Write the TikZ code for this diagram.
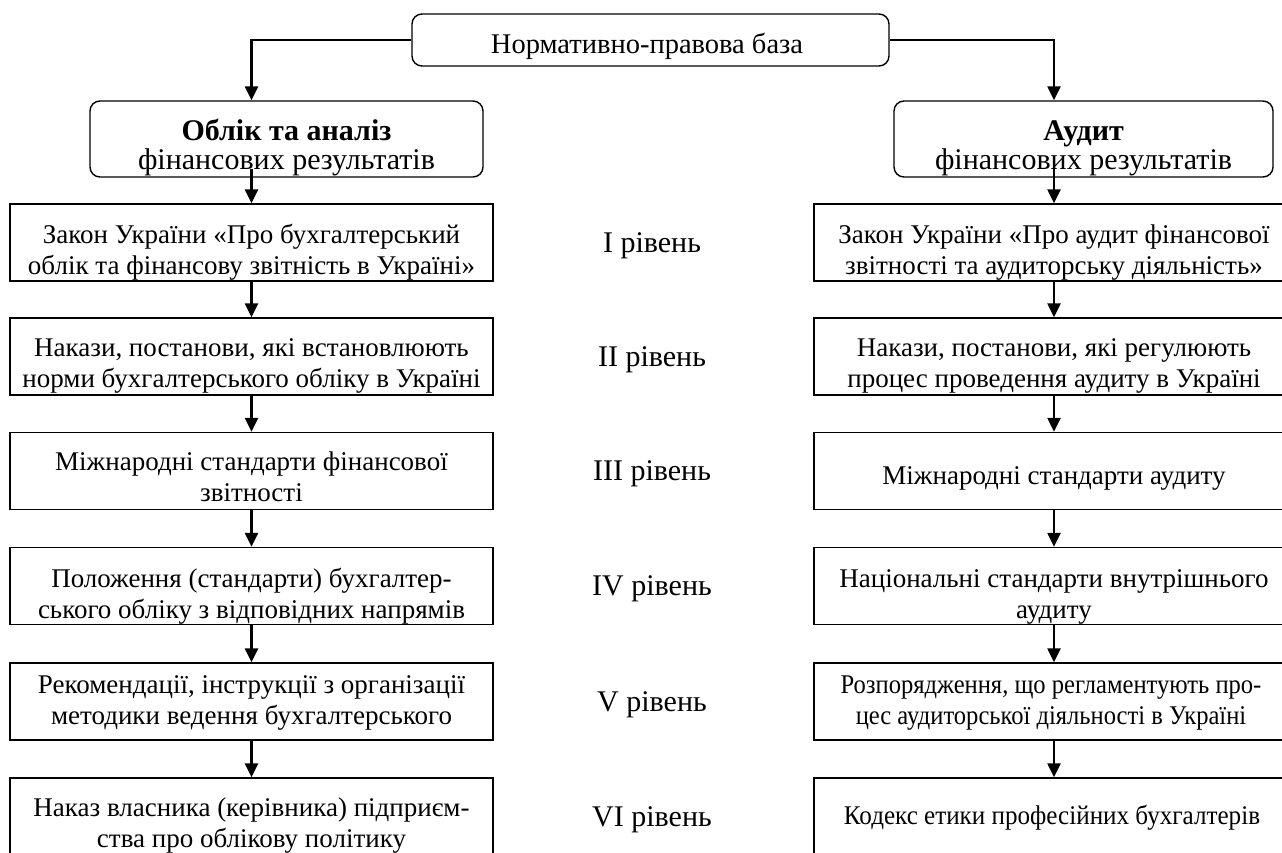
\documentclass[tikz,border=0pt]{standalone}
\usepackage{fontspec}
\setmainfont{Liberation Serif}
\usetikzlibrary{arrows.meta}
\tikzset{
  lvl/.style={draw, line width=1.4pt, minimum height=77pt, inner sep=0pt},
  lcol/.style={lvl, minimum width=483pt},
  rcol/.style={lvl, minimum width=480pt},
  rbox/.style={draw, line width=1.4pt, rounded corners=10pt, inner sep=0pt},
  txt/.style={anchor=base, inner sep=0pt, font=\fontsize{27}{31}\selectfont},
  ttxt/.style={anchor=base, inner sep=0pt, font=\fontsize{28.5}{31}\selectfont},
  htxt/.style={anchor=base, inner sep=0pt, font=\fontsize{30}{29}\selectfont},
  ltxt/.style={anchor=base, inner sep=0pt, font=\fontsize{30}{31}\selectfont},
  arr/.style={line width=2.4pt, -{Triangle[length=14pt,width=13pt]}},
}
\newcommand{\twol}[2]{\begin{tabular}[t]{@{}c@{}}#1\\#2\end{tabular}}
\newcommand{\boxtext}[4]{%
  \begin{scope}
    \clip ([yshift=0.7pt]#1.south west) rectangle ([yshift=-0.7pt]#1.north east);
    \node[txt] (#2) at #3 {#4};
  \end{scope}}
\begin{document}
\begin{tikzpicture}[x=1pt,y=-1pt]
\useasboundingbox (0,0) rectangle (1282,852);
\clip (0,0) rectangle (1282,852);

% top box
\node[rbox, minimum width=477pt, minimum height=52pt] (top) at (650.5,40) {};
\node[ttxt] (topt) at (647,53) {Нормативно-правова база};

% header boxes
\node[rbox, minimum width=393pt, minimum height=76pt] (lh) at (286.5,139) {};
\node[htxt] (lht) at (286.5,140) {\twol{\textbf{Облік та аналіз}}{фінансових результатів}};
\node[rbox, minimum width=379pt, minimum height=76pt] (rh) at (1083.5,139) {};
\node[htxt] (rht) at (1083.5,140) {\twol{\textbf{Аудит}}{фінансових результатів}};

% left column
\node[lcol] (l1) at (251.5,242.5) {};
\node[lcol] (l2) at (251.5,356.5) {};
\node[lcol] (l3) at (251.5,471) {};
\node[lcol] (l4) at (251.5,586) {};
\node[lcol] (l5) at (251.5,701.5) {};
\node[lcol] (l6) at (251.5,816.5) {};
\boxtext{l1}{l1t}{(251.5,243)}{\twol{Закон України «Про бухгалтерський}{облік та фінансову звітність в Україні»}}
\boxtext{l2}{l2t}{(251.5,356)}{\twol{Накази, постанови, які встановлюють}{норми бухгалтерського обліку в Україні}}
\boxtext{l3}{l3t}{(251.5,470)}{\twol{Міжнародні стандарти фінансової}{звітності}}
\boxtext{l4}{l4t}{(251.5,587)}{\twol{Положення (стандарти) бухгалтер-}{ського обліку з відповідних напрямів}}
\boxtext{l5}{l5t}{(251.5,693)}{\twol{Рекомендації, інструкції з організації}{методики ведення бухгалтерського}}
\boxtext{l6}{l6t}{(251.5,816)}{\twol{Наказ власника (керівника) підприєм-}{ства про облікову політику}}

% right column
\node[rcol] (r1) at (1054,242.5) {};
\node[rcol] (r2) at (1054,356.5) {};
\node[rcol] (r3) at (1054,471) {};
\node[rcol] (r4) at (1054,586) {};
\node[rcol] (r5) at (1054,701.5) {};
\node[rcol] (r6) at (1054,816.5) {};
\boxtext{r1}{r1t}{(1054,243)}{\twol{Закон України «Про аудит фінансової}{звітності та аудиторську діяльність»}}
\boxtext{r2}{r2t}{(1054,356)}{\twol{Накази, постанови, які регулюють}{процес проведення аудиту в Україні}}
\boxtext{r3}{r3t}{(1054,484)}{Міжнародні стандарти аудиту}
\boxtext{r4}{r4t}{(1054,587)}{\twol{Національні стандарти внутрішнього}{аудиту}}
\boxtext{r5}{r5t}{(1051,693)}{\scalebox{0.91}[1]{\twol{Розпорядження, що регламентують про-}{цес аудиторської діяльності в Україні}}}
\boxtext{r6}{r6t}{(1052,824)}{\scalebox{0.93}[1]{Кодекс етики професійних бухгалтерів}}

% level labels
\node[ltxt] (v1) at (652,252) {І рівень};
\node[ltxt] (v2) at (652,366) {ІІ рівень};
\node[ltxt] (v3) at (652,480) {ІІІ рівень};
\node[ltxt] (v4) at (652,595) {IV рівень};
\node[ltxt] (v5) at (652,711) {V рівень};
\node[ltxt] (v6) at (652,826) {VI рівень};

% connectors
\draw[arr] (top.west) -| (l1.north |- lh.north);
\draw[arr] (top.east) -| (r1.north |- rh.north);
\draw[arr] ([yshift=9pt]l1.north |- lh.south) -- (l1.north);
\draw[arr] ([yshift=9pt]r1.north |- rh.south) -- (r1.north);
\draw[arr] (l1.south) -- (l2.north);
\draw[arr] (l2.south) -- (l3.north);
\draw[arr] (l3.south) -- (l4.north);
\draw[arr] (l4.south) -- (l5.north);
\draw[arr] (l5.south) -- (l6.north);
\draw[arr] (r1.south) -- (r2.north);
\draw[arr] (r2.south) -- (r3.north);
\draw[arr] (r3.south) -- (r4.north);
\draw[arr] (r4.south) -- (r5.north);
\draw[arr] (r5.south) -- (r6.north);
\end{tikzpicture}
\end{document}
